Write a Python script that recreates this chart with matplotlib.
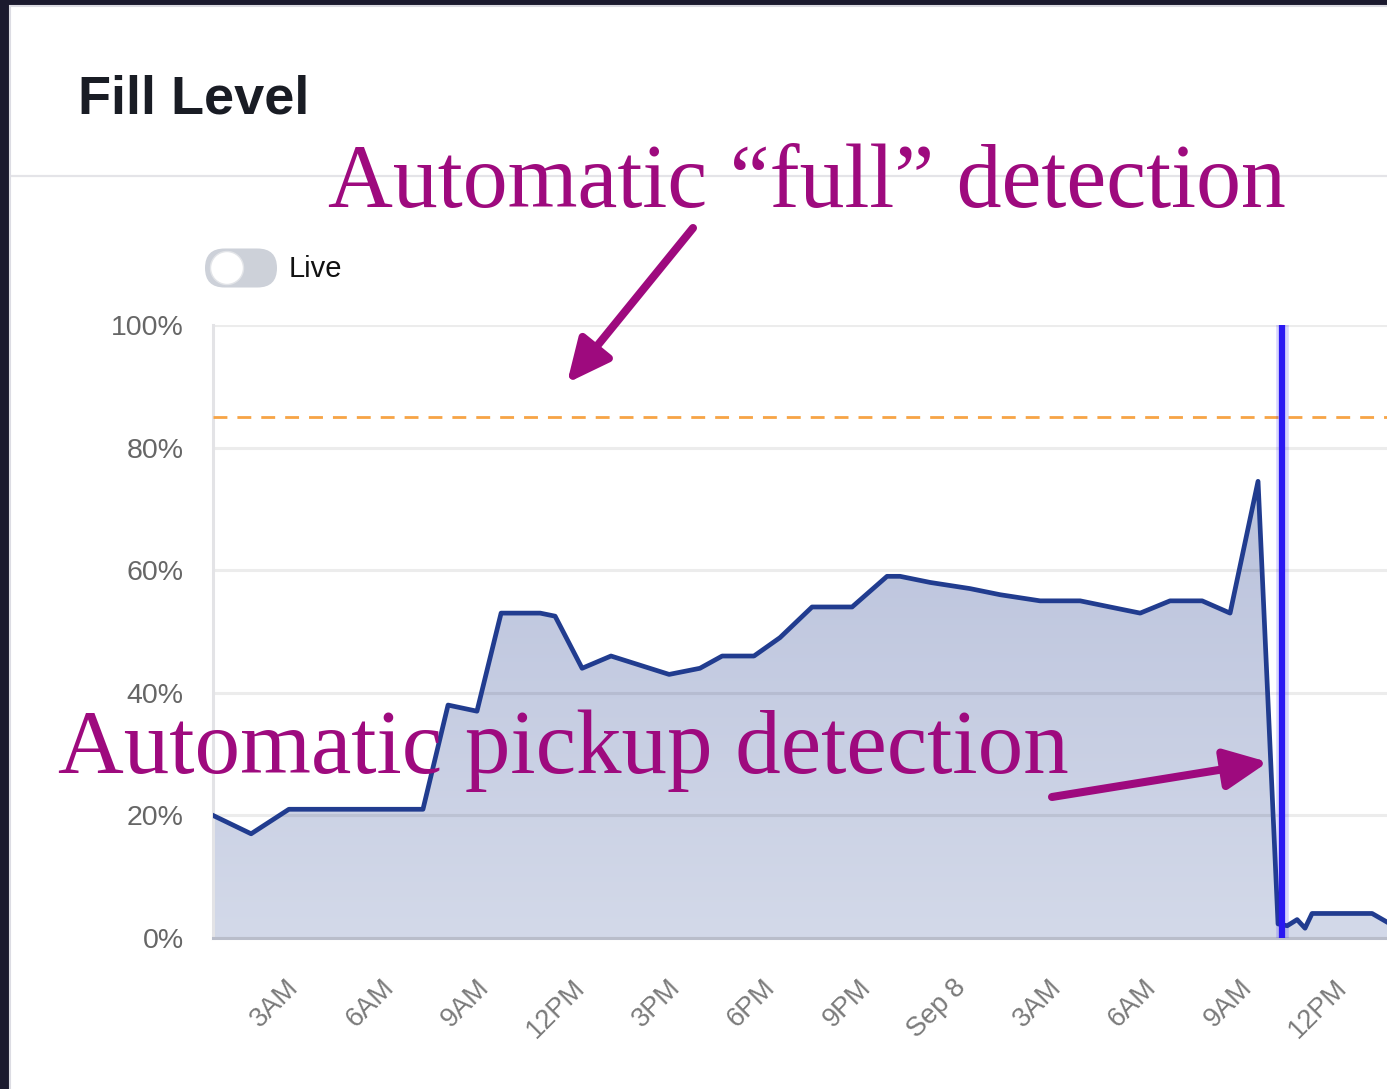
import matplotlib
matplotlib.use("Agg")
import matplotlib.pyplot as plt
import numpy as np
from matplotlib.colors import LinearSegmentedColormap
from matplotlib.patches import Rectangle, FancyBboxPatch, Circle, Polygon

W, H = 1387, 1089

# hours since Sep 7 00:00 and fill level in percent
hours = [0.42, 1.62, 2.81, 7.03, 7.82, 8.73, 9.49, 10.72, 11.19, 12.04,
         12.95, 14.78, 15.75, 16.45, 17.45, 18.27, 19.28, 20.54, 21.64, 22.05,
         23.0, 24.25, 25.2, 26.46, 27.72, 28.66, 29.61, 30.55, 31.56, 32.44,
         33.32, 33.95, 34.24, 34.55, 34.8, 35.02, 36.91, 37.38]
fill = [20, 17, 21, 21, 38, 37, 53, 53, 52.5, 44,
        46, 43, 44, 46, 46, 49, 54, 54, 59, 59,
        58, 57, 56, 55, 55, 54, 53, 55, 55, 53,
        74.5, 2.3, 2, 3, 1.6, 4, 4, 2.6]

full_threshold = 85
pickup_hour = 34.08
x_range = [0.42, 37.38]

tick_hours = [3, 6, 9, 12, 15, 18, 21, 24, 27, 30, 33, 36]
tick_labels = ["3AM", "6AM", "9AM", "12PM", "3PM", "6PM", "9PM", "Sep 8",
               "3AM", "6AM", "9AM", "12PM"]
y_ticks = [0, 20, 40, 60, 80, 100]

purple = "#9e0a7e"

fig = plt.figure(figsize=(W / 100, H / 100), dpi=100)
fig.patch.set_facecolor("#1b1a2e")

# card background
bg = fig.add_axes([0, 0, 1, 1], zorder=0)
bg.set_xlim(0, W)
bg.set_ylim(H, 0)
bg.axis("off")
bg.add_patch(Rectangle((10, 6), W, H, facecolor="white", edgecolor="#dcdce3", lw=1.5))
bg.plot([12, W], [176, 176], color="#e4e4e8", lw=1.6)

# main chart
ax = fig.add_axes([213 / W, (H - 938) / H, 1 - 213 / W, (938 - 325) / H], zorder=1)
ax.set_facecolor("none")
ax.set_xlim(*x_range)
ax.set_ylim(0, 100)

# area under the line, filled with a vertical gradient
area = Polygon([(hours[0], 0)] + list(zip(hours, fill)) + [(hours[-1], 0)],
               closed=True, facecolor="none", edgecolor="none",
               transform=ax.transData)
ax.add_patch(area)
grad = np.linspace(0, 1, 256).reshape(-1, 1)
cmap = LinearSegmentedColormap.from_list("f", ["#d3d9e9", "#bac2dc"])
im = ax.imshow(grad, cmap=cmap, origin="lower", aspect="auto",
               extent=[x_range[0], x_range[1], 0, 75], zorder=1)
im.set_clip_path(area)

for yv in y_ticks:
    ax.axhline(yv, color="black", alpha=0.075, lw=2.2, zorder=2)

ax.plot(hours, fill, color="#213c8f", lw=3.4, solid_joinstyle="round", zorder=3)
ax.axhline(full_threshold, color="#f7a445", lw=2, ls=(0, (5, 3.6)), zorder=3)
ax.axvline(pickup_hour, color="#2a18f2", lw=9, alpha=0.18, zorder=4)
ax.axvline(pickup_hour, color="#2a18f2", lw=4.5, zorder=4)

for s in ["top", "right"]:
    ax.spines[s].set_visible(False)
ax.spines["left"].set_color("#e3e3e6")
ax.spines["left"].set_linewidth(2.2)
ax.spines["bottom"].set_color("#b9bdca")
ax.spines["bottom"].set_linewidth(2.2)

ax.set_yticks(y_ticks)
ax.set_yticklabels([f"{v}%" for v in y_ticks], fontsize=20.5, color="#666666",
                   family="Liberation Sans")
ax.set_xticks(tick_hours)
ax.set_xticklabels(tick_labels, fontsize=19.5, color="#7a7a7a", rotation=45,
                   ha="right", va="center", rotation_mode="anchor",
                   family="Liberation Sans")
ax.tick_params(axis="y", length=0, pad=21)
ax.tick_params(axis="x", length=0, pad=33)

# overlay: title, toggle, annotations
ov = fig.add_axes([0, 0, 1, 1], zorder=2)
ov.set_xlim(0, W)
ov.set_ylim(H, 0)
ov.axis("off")
ov.patch.set_alpha(0)

ov.text(78, 113, "Fill Level", fontsize=39, fontweight="bold", color="#191c24",
        family="Liberation Sans", va="baseline", ha="left")

ov.add_patch(FancyBboxPatch((205 + 19.5, 268), 72 - 39, 0.01,
                            boxstyle="round,pad=19.5", facecolor="#cdd1d9",
                            edgecolor="none"))
ov.add_patch(Circle((227, 268), 16.5, facecolor="white", edgecolor="#e2e4e8", lw=1))
ov.text(289, 269, "Live", fontsize=21, color="#111111", family="Liberation Sans",
        va="center", ha="left")

ov.text(328, 207, "Automatic \u201cfull\u201d detection", fontsize=64.7, color=purple,
        family="Liberation Serif", va="baseline", ha="left")
ov.text(58, 773, "Automatic pickup detection", fontsize=65.5, color=purple,
        family="Liberation Serif", va="baseline", ha="left")

arrow = dict(arrowstyle="-|>,head_length=1.0,head_width=0.47", mutation_scale=26,
             lw=5.8, color=purple, shrinkA=0, shrinkB=0)
ov.annotate("", xy=(567, 383), xytext=(693, 228), arrowprops=arrow)
ov.annotate("", xy=(1268, 762), xytext=(1052, 797), arrowprops=arrow)

fig.savefig("out.png", dpi=100, facecolor=fig.get_facecolor())
